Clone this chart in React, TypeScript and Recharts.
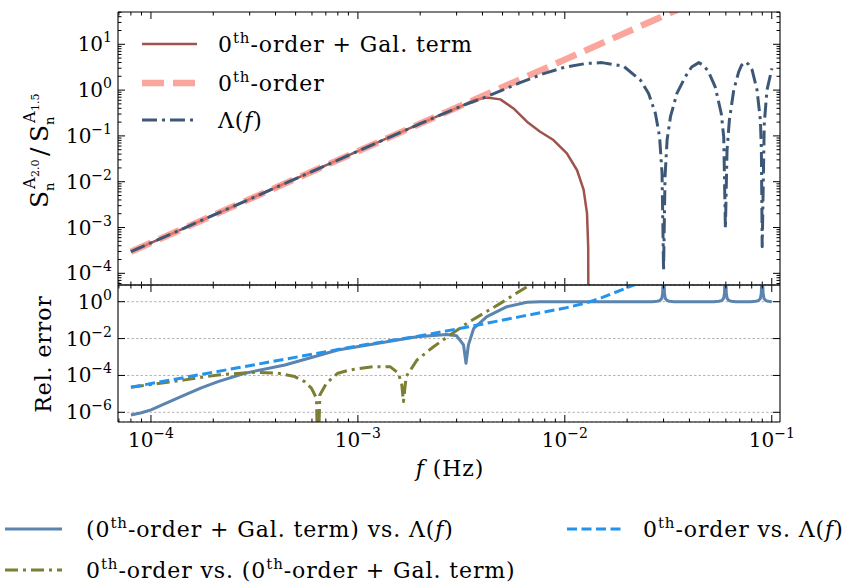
import { LineChart, Line, XAxis, YAxis, CartesianGrid } from "recharts";

const W = 847;
const H = 585;
const FONT = '"DejaVu Serif", "Liberation Serif", serif';

// frequency axis (Hz), shared by both panels
const fDomain = [6.93e-5, 0.1096];

// upper panel: ratio S_n^{A2.0} / S_n^{A1.5}
const ratioDomain = [5.56e-5, 50.7];

const zerothF = [8e-5, 1e-4, 3e-4, 1e-3, 3e-3, 1e-2, 0.035];
const zerothV = [2.96e-4, 4.63e-4, 4.17e-3, 0.0463, 0.417, 4.63, 56.8];

const galF = [8e-5, 1e-4, 3e-4, 1e-3, 2e-3, 3.2e-3, 3.63e-3, 4.2e-3, 4.88e-3, 5.65e-3, 6.56e-3, 7.6e-3, 8.81e-3, 0.01023, 0.01146, 0.01233, 0.0128, 0.01297, 0.01305];
const galV = [2.96e-4, 4.63e-4, 4.17e-3, 0.0463, 0.185, 0.46, 0.605, 0.69, 0.627, 0.398, 0.204, 0.123, 0.0813, 0.0417, 0.0178, 6.6e-3, 2.04e-3, 3.8e-4, 1e-7];

const lambdaF = [
  8e-5, 1e-4, 3e-4, 1e-3, 2e-3, 3.16e-3, 4.2e-3, 6.08e-3, 7.9e-3, 0.01, 0.0126, 0.0151, 0.0192,
  0.0232, 0.0254, 0.0274, 0.0287, 0.0295, 0.03, 0.0305, 0.0312, 0.0324, 0.0348, 0.0382, 0.041,
  0.0444, 0.047, 0.0495, 0.0533, 0.057, 0.0586, 0.0597, 0.0608, 0.0624, 0.0655, 0.0692, 0.0715,
  0.0745, 0.0775, 0.0804, 0.0849, 0.0881, 0.0891, 0.0899, 0.092, 0.0948, 0.1002,
];
const lambdaV = [
  2.96e-4, 4.63e-4, 4.17e-3, 0.0463, 0.185, 0.447, 0.72, 1.45, 2.29, 3.16, 3.8, 3.98, 3.34,
  1.65, 0.845, 0.31, 0.0955, 0.0151, 1.17e-4, 0.0129, 0.0813, 0.263, 0.845, 1.95, 3.2,
  3.98, 3.4, 2.51, 1.18, 0.309, 0.0955, 9.5e-4, 0.049, 0.221, 1.0, 2.51, 3.5,
  4.15, 3.6, 2.74, 1.0, 0.221, 0.049, 3.8e-4, 0.186, 1.0, 2.98,
];

// lower panel: relative errors
const relDomain = [2.98e-7, 8.05];
const relMajor = [1e-6, 1e-4, 1e-2, 1];

const relGalF = [
  8e-5, 9e-5, 1e-4, 1.2e-4, 1.46e-4, 1.75e-4, 2.11e-4, 2.84e-4, 4.44e-4, 8e-4, 1.93e-3, 2.69e-3, 3e-3,
  3.24e-3, 3.33e-3, 3.42e-3, 3.63e-3, 4.2e-3, 5.25e-3, 6.56e-3, 7.6e-3, 9e-3,
  0.0264, 0.0279, 0.0288, 0.0294, 0.0297, 0.03, 0.0303, 0.0306, 0.0312, 0.0321, 0.0336,
  0.0525, 0.0555, 0.0573, 0.0585, 0.0591, 0.0597, 0.0603, 0.0609, 0.0621, 0.0639, 0.0669,
  0.0791, 0.0836, 0.0863, 0.0881, 0.089, 0.0899, 0.0908, 0.0917, 0.0935, 0.0962, 0.1,
];
const relGalV = [
  7.2e-7, 9.5e-7, 1.35e-6, 3.3e-6, 8.7e-6, 2.1e-5, 4.6e-5, 1.32e-4, 3.7e-4, 2.4e-3, 0.0126, 0.0166, 0.0141,
  4.5e-3, 4.6e-4, 4.5e-3, 0.036, 0.155, 0.537, 0.93, 0.98, 1.0,
  1.0, 1.05, 1.15, 1.48, 2.9, 100, 2.9, 1.48, 1.15, 1.05, 1.0,
  1.0, 1.05, 1.15, 1.48, 2.9, 100, 2.9, 1.48, 1.15, 1.05, 1.0,
  1.0, 1.05, 1.15, 1.48, 2.9, 100, 2.9, 1.48, 1.15, 1.05, 1.0,
];

const relZerothF = [8e-5, 1e-3, 2e-3, 3.63e-3, 6.08e-3, 0.01, 0.0128, 0.0151, 0.0215, 0.024];
const relZerothV = [2.29e-5, 4e-3, 0.0141, 0.049, 0.155, 0.45, 0.89, 1.65, 8, 12];

const relZgF = [
  8e-5, 1.46e-4, 2.11e-4, 3.05e-4, 4.11e-4, 4.95e-4, 5.53e-4, 5.96e-4, 6.31e-4, 6.4e-4, 6.55e-4,
  7.05e-4, 8e-4, 9.16e-4, 1.19e-3, 1.43e-3, 1.57e-3, 1.63e-3, 1.66e-3, 1.71e-3, 1.93e-3, 2.32e-3,
  2.79e-3, 3.37e-3, 4.05e-3, 4.88e-3, 6.56e-3, 7e-3,
];
const relZgV = [
  2.29e-5, 5.75e-5, 1.07e-4, 1.48e-4, 1.32e-4, 8.7e-5, 4.6e-5, 2.04e-5, 5.75e-6, 1e-9, 8.7e-6,
  3.8e-5, 1.32e-4, 2e-4, 3e-4, 3e-4, 1.32e-4, 3.1e-5, 3.8e-6, 8.5e-5, 6.9e-4, 3.6e-3,
  0.0158, 0.068, 0.234, 0.81, 6.5, 12,
];

const C = {
  gal: "#9e534d",
  zeroth: "#fa8072",
  lambda: "#3d5877",
  relGal: "#5b84ae",
  relZeroth: "#2393ee",
  relZg: "#7b7e33",
};

const rows = (fs: number[], vs: number[]) => fs.map((f, i) => ({ f, v: vs[i] }));

// majors plus 2..9 minors inside the range
const withMinors = (lo: number, hi: number) => {
  const out: number[] = [];
  for (let e = Math.floor(Math.log10(lo)); e <= Math.ceil(Math.log10(hi)); e++) {
    for (let m = 1; m <= 9; m++) {
      const v = m * Math.pow(10, e);
      if (v >= lo && v <= hi) out.push(v);
    }
  }
  return out;
};

const isMajor = (v: number) => Math.abs(Math.log10(v) - Math.round(Math.log10(v))) < 1e-6;
const expText = (v: number) => {
  const e = Math.round(Math.log10(v));
  return e < 0 ? `\u2212${-e}` : `${e}`;
};

function PowLabel({ x, y, v, anchor }: { x: number; y: number; v: number; anchor: string }) {
  return (
    <text x={x} y={y} textAnchor={anchor} fontFamily={FONT} fontSize={20} fill="#000">
      10
      <tspan dy={-9} fontSize={14}>
        {expText(v)}
      </tspan>
    </text>
  );
}

// inward ticks, drawn by hand so they can point into the frame
function FreqTick(props: any) {
  const { x, y, payload, side, labels } = props;
  const v = payload.value;
  const major = isMajor(v);
  const len = major ? 7 : 3.5;
  const dir = side === "bottom" ? -1 : 1;
  return (
    <g>
      <line x1={x} x2={x} y1={y} y2={y + dir * len} stroke="#000" strokeWidth={1} />
      {labels && major && <PowLabel x={x} y={y + 25} v={v} anchor="middle" />}
    </g>
  );
}

function ValTick(props: any) {
  const { x, y, payload, side, labels, minorLen } = props;
  const v = payload.value;
  const major = isMajor(v);
  const len = major ? 7 : minorLen;
  const dir = side === "left" ? 1 : -1;
  return (
    <g>
      <line x1={x} x2={x + dir * len} y1={y} y2={y} stroke="#000" strokeWidth={1} />
      {labels && major && <PowLabel x={x - 6} y={y + 7} v={v} anchor="end" />}
    </g>
  );
}

const axisLine = { stroke: "#000", strokeWidth: 1.1 };
const freqTicks = withMinors(fDomain[0], fDomain[1]);

function FreqAxes({ topH, bottomH, labels }: { topH: number; bottomH: number; labels: boolean }) {
  return [
    <XAxis
      key="b"
      xAxisId="b"
      dataKey="f"
      type="number"
      scale="log"
      domain={fDomain}
      allowDataOverflow
      ticks={freqTicks}
      interval={0}
      height={bottomH}
      tickSize={0}
      tickMargin={0}
      tickLine={false}
      axisLine={axisLine}
      tick={(p: any) => <FreqTick {...p} side="bottom" labels={labels} />}
    />,
    <XAxis
      key="t"
      xAxisId="t"
      orientation="top"
      dataKey="f"
      type="number"
      scale="log"
      domain={fDomain}
      allowDataOverflow
      ticks={freqTicks}
      interval={0}
      height={topH}
      tickSize={0}
      tickMargin={0}
      tickLine={false}
      axisLine={axisLine}
      tick={(p: any) => <FreqTick {...p} side="top" />}
    />,
  ];
}

function ValAxes({ domain, ticks, minorLen }: { domain: number[]; ticks: number[]; minorLen: number }) {
  return [
    <YAxis
      key="l"
      yAxisId="l"
      type="number"
      scale="log"
      domain={domain}
      allowDataOverflow
      ticks={ticks}
      interval={0}
      width={118}
      tickSize={0}
      tickMargin={0}
      tickLine={false}
      axisLine={axisLine}
      tick={(p: any) => <ValTick {...p} side="left" labels minorLen={minorLen} />}
    />,
    <YAxis
      key="r"
      yAxisId="r"
      orientation="right"
      type="number"
      scale="log"
      domain={domain}
      allowDataOverflow
      ticks={ticks}
      interval={0}
      width={67}
      tickSize={0}
      tickMargin={0}
      tickLine={false}
      axisLine={axisLine}
      tick={(p: any) => <ValTick {...p} side="right" minorLen={minorLen} />}
    />,
  ];
}

const lineBase = {
  xAxisId: "b",
  yAxisId: "l",
  dataKey: "v",
  type: "linear" as const,
  dot: false,
  isAnimationActive: false,
  strokeLinejoin: "round" as const,
};

// "0" with a raised "th", then the rest of the phrase back on the baseline
function Nth({ lead = "0", rest }: { lead?: string; rest: string }) {
  return (
    <>
      <tspan>{lead}</tspan>
      <tspan dy={-9} fontSize={15}>
        th
      </tspan>
      <tspan dy={9}>{rest}</tspan>
    </>
  );
}

function Overlay() {
  const t = { fontFamily: FONT, fontSize: 22, fill: "#000", letterSpacing: 0.9 };
  return (
    <svg width={W} height={H} style={{ position: "absolute", left: 0, top: 0, pointerEvents: "none" }}>
      {/* upper legend */}
      <line x1={142} x2={197} y1={44} y2={44} stroke={C.gal} strokeWidth={2.5} />
      <text x={218} y={52} {...t}>
        <Nth rest="-order + Gal. term" />
      </text>
      <line x1={142} x2={197} y1={83} y2={83} stroke={C.zeroth} strokeOpacity={0.7} strokeWidth={6.5} strokeDasharray="22 9" />
      <text x={218} y={91} {...t}>
        <Nth rest="-order" />
      </text>
      <line x1={142} x2={197} y1={120} y2={120} stroke={C.lambda} strokeWidth={3} strokeDasharray="15 5 3 5" />
      <text x={218} y={128} {...t}>
        Λ(<tspan fontStyle="italic">f</tspan>)
      </text>

      {/* y label of upper panel */}
      <g transform="translate(48,150) rotate(-90)" fontFamily={FONT} fill="#000">
        <text x={-58} y={0} fontSize={25}>S</text>
        <text x={-41} y={6} fontSize={13}>n</text>
        <text x={-39} y={-13} fontSize={16}>A</text>
        <text x={-27} y={-9} fontSize={11}>2.0</text>
        <text x={-6} y={0} fontSize={25}>/</text>
        <text x={8} y={0} fontSize={25}>S</text>
        <text x={25} y={6} fontSize={13}>n</text>
        <text x={27} y={-13} fontSize={16}>A</text>
        <text x={39} y={-9} fontSize={11}>1.5</text>
      </g>

      <text transform="translate(51,354) rotate(-90)" textAnchor="middle" {...t}>
        Rel. error
      </text>

      <text x={450} y={476} textAnchor="middle" {...t}>
        <tspan fontStyle="italic">f</tspan> (Hz)
      </text>

      {/* lower legend */}
      <line x1={5} x2={62} y1={529} y2={529} stroke={C.relGal} strokeWidth={3} />
      <text x={86} y={537} {...t}>
        <Nth lead="(0" rest="-order + Gal. term) vs. Λ(" />
        <tspan fontStyle="italic">f</tspan>)
      </text>
      <line x1={567} x2={622} y1={529} y2={529} stroke={C.relZeroth} strokeWidth={3} strokeDasharray="10 4.5" />
      <text x={643} y={537} {...t}>
        <Nth rest="-order vs. Λ(" />
        <tspan fontStyle="italic">f</tspan>)
      </text>
      <line x1={5} x2={62} y1={570} y2={570} stroke={C.relZg} strokeWidth={3} strokeDasharray="13 5 3 5" />
      <text x={86} y={578} {...t}>
        <Nth rest="-order vs. (0" />
        <tspan dy={-9} fontSize={15}>
          th
        </tspan>
        <tspan dy={9}>-order + Gal. term)</tspan>
      </text>
    </svg>
  );
}

const ratioTicks = withMinors(ratioDomain[0], ratioDomain[1]);

export default function App() {
  return (
    <div style={{ position: "absolute", left: 0, top: 0, width: W, height: H, background: "#fff" }}>
      <div style={{ position: "absolute", left: 0, top: 0 }}>
        <LineChart width={W} height={H} margin={{ top: 0, right: 0, bottom: 0, left: 0 }}>
          {FreqAxes({ topH: 12, bottomH: 300, labels: false })}
          {ValAxes({ domain: ratioDomain, ticks: ratioTicks, minorLen: 3.5 })}
          <Line {...lineBase} data={rows(galF, galV)} stroke={C.gal} strokeWidth={2.5} />
          <Line {...lineBase} data={rows(zerothF, zerothV)} stroke={C.zeroth} strokeOpacity={0.7} strokeWidth={6.5} strokeDasharray="22 9" />
          <Line {...lineBase} data={rows(lambdaF, lambdaV)} stroke={C.lambda} strokeWidth={3} strokeDasharray="15 5 3 5" />
        </LineChart>
      </div>
      <div style={{ position: "absolute", left: 0, top: 0 }}>
        <LineChart width={W} height={H} margin={{ top: 0, right: 0, bottom: 0, left: 0 }}>
          <CartesianGrid xAxisId="b" yAxisId="l" vertical={false} stroke="#b3b3b3" strokeDasharray="2.5 2" />
          {FreqAxes({ topH: 285, bottomH: 163, labels: true })}
          {ValAxes({ domain: relDomain, ticks: relMajor, minorLen: 7 })}
          <Line {...lineBase} data={rows(relGalF, relGalV)} stroke={C.relGal} strokeWidth={3} />
          <Line {...lineBase} data={rows(relZgF, relZgV)} stroke={C.relZg} strokeWidth={3} strokeDasharray="13 5 3 5" />
          <Line {...lineBase} data={rows(relZerothF, relZerothV)} stroke={C.relZeroth} strokeWidth={3} strokeDasharray="10 4.5" />
        </LineChart>
      </div>
      <Overlay />
    </div>
  );
}
